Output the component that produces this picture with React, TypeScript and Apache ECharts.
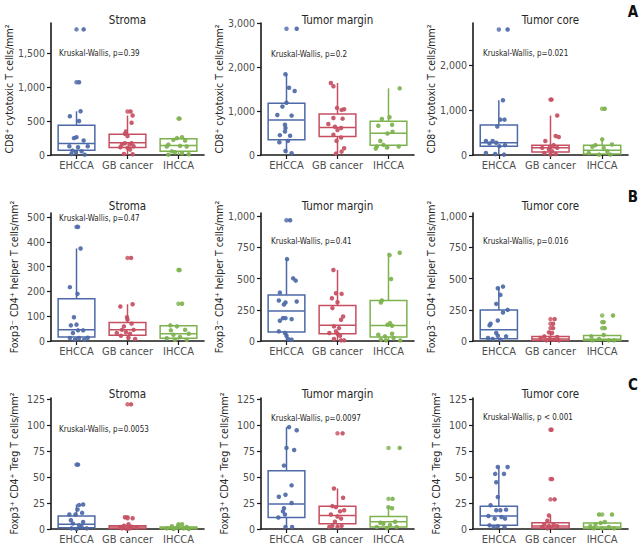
import React, { useEffect, useRef } from "react";
import * as echarts from "echarts";

const categories = ["EHCCA", "GB cancer", "IHCCA"];
const groupColors = ["#4d69a8", "#c54f61", "#7db24e"];
const columnTitles = ["Stroma", "Tumor margin", "Tumor core"];
const rowYTitles = [
  "CD8⁺ cytotoxic T cells/mm²",
  "Foxp3⁻ CD4⁺ helper T cells/mm²",
  "Foxp3⁺ CD4⁺ Treg T cells/mm²",
];
const rowLetters = ["A", "B", "C"];
const pValueTexts = [
  "Kruskal-Wallis, p=0.39",
  "Kruskal-Wallis, p=0.2",
  "Kruskal-Wallis, p=0.021",
  "Kruskal-Wallis, p=0.47",
  "Kruskal-Wallis, p=0.41",
  "Kruskal-Wallis, p=0.016",
  "Kruskal-Wallis, p=0.0053",
  "Kruskal-Wallis, p=0.0097",
  "Kruskal-Wallis, p < 0.001",
];
const yMax = [1940, 3000, 2930, 516, 1024, 1024, 126, 126, 126];
const yTicks = [
  [0, 500, 1000, 1500],
  [0, 1000, 2000, 3000],
  [0, 1000, 2000],
  [0, 100, 200, 300, 400, 500],
  [0, 250, 500, 750, 1000],
  [0, 250, 500, 750, 1000],
  [0, 25, 50, 75, 100, 125],
  [0, 25, 50, 75, 100, 125],
  [0, 25, 50, 75, 100, 125],
];

// box stats per panel: [whiskerLow, Q1, median, Q3, whiskerHigh] for EHCCA, GB cancer, IHCCA
const boxA1 = [[0, 70, 170, 436, 643], [0, 110, 180, 305, 580], [0, 54, 139, 238, 262]];
const boxA2 = [[40, 344, 796, 1178, 1836], [31, 421, 627, 933, 1637], [145, 222, 497, 765, 1515]];
const boxA3 = [[8, 196, 272, 664, 1216], [8, 68, 159, 219, 876], [8, 23, 106, 219, 347]];
const boxB1 = [[5, 16, 45, 170, 373], [5, 23, 45, 75, 148], [5, 11, 29, 61, 63]];
const boxB2 = [[11, 72, 241, 369, 655], [5, 58, 127, 284, 568], [5, 32, 125, 324, 706]];
const boxB3 = [[11, 19, 90, 249, 435], [5, 5, 16, 37, 69], [5, 5, 14, 45, 48]];
const boxC1 = [[0, 1.3, 4.5, 12.6, 23.5], [0, 0.6, 1.9, 3.2, 5], [0, 0.3, 1, 1.9, 3.5]];
const boxC2 = [[2, 11, 24, 56, 98], [2, 5, 13, 22, 39], [0, 2, 7, 12, 21]];
const boxC3 = [[1.9, 3.5, 12.5, 21.8, 59.6], [0.3, 1, 2.9, 6, 13], [0.3, 0.6, 1.9, 5.8, 6.7]];

// boxplot outliers (drawn on the category centre)
const outA1 = [[1846, 1069], [640], [535]];
const outA2 = [[2869], [], []];
const outA3 = [[2786], [1230], [1027]];
const outB1 = [[460], [335], [286, 150]];
const outB2 = [[966], [], []];
const outB3 = [[], [175, 138, 103], [204, 151, 103]];
const outC1 = [[61.9], [119.9, 11.3, 10.3], [4.5]];
const outC2 = [[], [92], [78, 29]];
const outC3 = [[], [95.5, 48, 28.5], [14]];

// jittered observations: [horizontal jitter (category units), value]
const ptsA1 = [
  [[0.14, 1846], [0.05, 1069], [-0.13, 569], [0.08, 643], [0.05, 500], [-0.05, 248], [0, 262], [0.14, 213], [-0.14, 129], [0.03, 114], [0.22, 129], [-0.08, 64], [0.1, 54], [-0.01, 40], [0.16, 5], [-0.1, 15]],
  [[0.06, 640], [0.1, 580], [0.08, 475], [-0.03, 346], [-0.05, 312], [0, 277], [-0.05, 173], [0.08, 173], [-0.11, 153], [0.04, 153], [0.12, 129], [-0.14, 114], [0, 104], [0.05, 79], [-0.07, 15], [0.1, 10]],
  [[0.02, 535], [0.07, 262], [-0.03, 248], [-0.1, 223], [0.13, 213], [-0.2, 153], [0.03, 134], [-0.23, 124], [0.16, 124], [-0.13, 54], [-0.07, 40], [0.07, 25], [0.2, 10], [-0.2, 5]],
];
const ptsA2 = [
  [[0.2, 2869], [-0.02, 1836], [0.05, 1530], [0.16, 1453], [0, 1186], [-0.08, 1101], [-0.18, 910], [0.1, 895], [-0.03, 688], [-0.02, 612], [-0.03, 535], [-0.13, 451], [0.07, 436], [-0.14, 291], [0.03, 321], [-0.02, 92], [0.1, 40]],
  [[-0.13, 1637], [-0.08, 1561], [-0.01, 1071], [0.08, 1025], [0.13, 1040], [-0.08, 841], [0.1, 826], [-0.18, 704], [-0.05, 643], [0.07, 612], [0, 566], [-0.08, 459], [0.07, 398], [-0.02, 321], [0.13, 153], [0.08, 77], [-0.03, 31]],
  [[0.22, 1515], [-0.13, 819], [0.02, 857], [0.07, 688], [-0.2, 666], [0.08, 528], [-0.02, 490], [-0.16, 321], [-0.1, 230], [-0.23, 191], [-0.03, 168], [0.2, 191], [-0.25, 145]],
];
const ptsA3 = [
  [[0.17, 2786], [0.08, 1216], [0.03, 785], [0.11, 785], [-0.03, 634], [-0.25, 310], [-0.12, 310], [-0.18, 257], [-0.05, 272], [0.12, 219], [0.01, 196], [-0.25, 45], [-0.07, 23], [0.1, 8]],
  [[0.02, 1230], [0.13, 876], [0.1, 423], [0.16, 400], [-0.1, 310], [0.06, 219], [-0.01, 174], [-0.16, 159], [0.13, 159], [-0.03, 121], [0.03, 83], [-0.12, 45], [0.1, 23], [0, 8]],
  [[0.05, 1027], [0, 347], [-0.13, 219], [0.19, 234], [-0.19, 181], [0.03, 159], [0.1, 83], [-0.26, 45], [-0.06, 8], [0.16, 8]],
];
const ptsB1 = [
  [[0.03, 460], [0.08, 373], [-0.13, 217], [0.02, 190], [-0.05, 96], [-0.11, 63], [0, 66], [0.03, 43], [0.13, 43], [-0.07, 32], [-0.13, 12], [0.05, 12], [0.22, 13], [-0.03, 5], [0.15, 5]],
  [[0.07, 335], [-0.14, 139], [0.1, 148], [-0.01, 96], [0, 86], [-0.07, 59], [0.08, 70], [-0.11, 45], [0.12, 45], [-0.03, 35], [-0.21, 32], [0.05, 29], [-0.13, 21], [0.02, 13], [0.15, 8]],
  [[0.02, 286], [0.07, 150], [-0.16, 63], [-0.03, 59], [0.13, 45], [-0.15, 43], [0.2, 29], [-0.1, 25], [0.03, 16], [-0.23, 11], [-0.07, 5], [0.16, 5]],
];
const ptsB2 = [
  [[0.07, 966], [0.01, 655], [0.13, 501], [0.18, 483], [-0.13, 387], [-0.15, 324], [0.2, 316], [-0.02, 308], [-0.05, 292], [-0.07, 183], [-0.02, 183], [0.1, 175], [-0.13, 162], [-0.15, 77], [-0.03, 64], [0, 42], [0.03, 16], [0.1, 11]],
  [[-0.08, 568], [-0.03, 382], [0.08, 377], [-0.11, 342], [0, 310], [-0.1, 263], [0.11, 196], [0.07, 170], [-0.07, 117], [0.03, 103], [-0.03, 77], [-0.16, 64], [0, 58], [0.05, 42], [-0.07, 16], [0.13, 5], [0.07, 5]],
  [[0.02, 687], [0.22, 706], [0.05, 496], [-0.13, 324], [-0.15, 308], [0.03, 143], [-0.02, 130], [0.07, 122], [0.07, 58], [-0.2, 50], [-0.07, 37], [0.1, 24], [-0.15, 11], [0.23, 5], [-0.05, 5]],
];
const ptsB3 = [
  [[0.08, 435], [-0.02, 422], [0.03, 369], [-0.05, 297], [0.17, 249], [0.08, 228], [-0.18, 125], [-0.16, 138], [-0.02, 164], [-0.05, 64], [-0.02, 42], [0.14, 37], [-0.21, 24], [-0.12, 16], [0.03, 11]],
  [[0.08, 175], [0.05, 138], [0.05, 103], [-0.03, 69], [0.03, 64], [-0.12, 37], [0.13, 32], [-0.19, 24], [-0.01, 16], [0.06, 11], [-0.08, 5], [0.16, 5]],
  [[0.21, 204], [0.03, 151], [0.05, 103], [0.03, 48], [-0.21, 37], [-0.06, 16], [-0.19, 5], [0.13, 5], [0.23, 5]],
];
const ptsC1 = [
  [[0.03, 61.9], [0.13, 23.5], [0.05, 23], [0.02, 18.7], [-0.02, 14], [-0.14, 13.9], [0.11, 15.5], [-0.11, 8.4], [0.13, 6.8], [-0.07, 5.2], [0.05, 3.5], [0.1, 1.9], [-0.1, 0.6], [0.2, 0.6], [0, 0]],
  [[0.07, 119.9], [-0.05, 11.3], [0.1, 10.3], [0.02, 4.5], [-0.07, 3.2], [-0.14, 1.9], [0.08, 2.2], [0.18, 1.3], [0.05, 0.6], [-0.11, 0.6], [-0.01, 0]],
  [[0.07, 4.5], [0, 3.5], [-0.13, 2.6], [0.16, 1.9], [-0.03, 1.3], [-0.23, 0.6], [0.1, 0.6], [0.2, 0], [-0.1, 0]],
];
const ptsC2 = [
  [[0.05, 98], [0.2, 95], [0, 78], [0.15, 76], [-0.05, 61], [0.1, 42], [-0.02, 33], [-0.15, 31], [0.1, 25], [-0.05, 20], [-0.07, 17], [-0.03, 14], [-0.16, 11], [-0.02, 2], [0.11, 2]],
  [[0.1, 92], [-0.07, 39], [0.11, 30], [-0.1, 22], [-0.03, 21], [0.05, 17], [0.13, 18], [-0.13, 14], [0, 12], [0.07, 10], [-0.05, 7], [-0.1, 3], [0.08, 3], [0, 2], [-0.16, 2]],
  [[0.22, 78], [0.08, 29], [0, 21], [0.07, 20], [-0.16, 6], [-0.1, 5], [0.13, 7], [0.03, 4], [-0.23, 2], [0.16, 2], [-0.03, 1]],
];
const ptsC3 = [
  [[-0.02, 59.6], [0.17, 59.6], [-0.07, 53], [0.1, 53], [-0.05, 45], [-0.02, 30.8], [-0.16, 22.8], [-0.05, 18], [0.03, 18], [0.14, 18.6], [-0.2, 12.5], [-0.08, 10], [0.05, 11.5], [0.12, 10], [-0.18, 3.5], [-0.02, 2.6], [-0.1, 1.9], [0.11, 1.9]],
  [[0.02, 95.5], [0.03, 48], [0.08, 28.5], [-0.03, 13], [-0.06, 8], [-0.12, 4.5], [0.06, 4.5], [-0.03, 3], [0.13, 2.6], [-0.16, 1.9], [0.03, 1.3], [-0.06, 0.6]],
  [[-0.06, 14], [0.19, 14], [0.05, 6.7], [-0.03, 5.8], [-0.13, 4.5], [-0.23, 2.6], [0.13, 1.9], [0, 0.6], [0.23, 0.6], [-0.16, 0.6]],
];

const panelBoxes = [boxA1, boxA2, boxA3, boxB1, boxB2, boxB3, boxC1, boxC2, boxC3];
const panelOutliers = [outA1, outA2, outA3, outB1, outB2, outB3, outC1, outC2, outC3];
const panelPoints = [ptsA1, ptsA2, ptsA3, ptsB1, ptsB2, ptsB3, ptsC1, ptsC2, ptsC3];

// layout (pixels)
const colLeft = [51, 261, 473];
const colWidth = [153, 153, 155];
const rowTop = [23, 213, 398];
const rowHeight = [132, 128, 131];
const titleY = [20, 205.5, 393.5];
const letterY = [12, 197, 385];
const pTextPos = [
  [59, 53], [271, 54], [483, 53],
  [59, 218], [271, 241], [483, 241],
  [59, 429], [271, 418], [483, 417],
];

const FONT = "'Liberation Sans Narrow', 'Arial Narrow', 'DejaVu Sans Condensed', 'Roboto Condensed', 'Liberation Sans', sans-serif";
const AXIS_COLOR = "#1a1a1a";
const LABEL_COLOR = "#4d4d4d";

function buildOption() {
  const grid: any[] = [];
  const xAxis: any[] = [];
  const yAxis: any[] = [];
  const series: any[] = [];
  const graphic: any[] = [];

  for (let p = 0; p < 9; p++) {
    const row = Math.floor(p / 3);
    const col = p % 3;
    grid.push({
      left: colLeft[col],
      top: rowTop[row],
      width: colWidth[col],
      height: rowHeight[row],
      containLabel: false,
      outerBoundsMode: "none",
    });
    xAxis.push({
      gridIndex: p,
      type: "category",
      data: categories,
      boundaryGap: true,
      axisLine: { show: true, lineStyle: { color: AXIS_COLOR, width: 1.6 } },
      axisTick: { show: true, alignWithLabel: true, length: 4, lineStyle: { color: AXIS_COLOR, width: 1.2 } },
      axisLabel: { color: LABEL_COLOR, fontSize: 11, margin: 5, interval: 0, fontFamily: FONT },
      splitLine: { show: false },
    });
    xAxis.push({
      gridIndex: p,
      type: "value",
      min: -0.5,
      max: 2.5,
      show: false,
    });
    yAxis.push({
      gridIndex: p,
      type: "value",
      min: 0,
      max: yMax[p],
      axisLine: { show: true, onZero: false, lineStyle: { color: AXIS_COLOR, width: 1.6 } },
      axisTick: { show: true, length: 4, lineStyle: { color: AXIS_COLOR, width: 1.2 }, customValues: yTicks[p] },
      axisLabel: {
        customValues: yTicks[p],
        color: LABEL_COLOR,
        fontSize: 10.5,
        margin: 6,
        fontFamily: FONT,
        formatter: (v: number) => Number(v).toLocaleString("en-US"),
      },
      splitLine: { show: false },
      name: rowYTitles[row],
      nameLocation: "middle",
      nameGap: 32,
      nameTextStyle: { fontSize: 10.5, color: "#262626", fontFamily: FONT },
    });

    const boxes = panelBoxes[p];
    series.push({
      type: "custom",
      xAxisIndex: 2 * p,
      yAxisIndex: p,
      z: 2,
      encode: { x: 0, y: [1, 2, 3, 4, 5] },
      data: boxes.map((b, i) => [i, ...b]),
      renderItem: (params: any, api: any) => {
        const ci = api.value(0);
        const color = groupColors[ci];
        const lo = api.coord([ci, api.value(1)]);
        const q1 = api.coord([ci, api.value(2)]);
        const med = api.coord([ci, api.value(3)]);
        const q3 = api.coord([ci, api.value(4)]);
        const hi = api.coord([ci, api.value(5)]);
        const band = api.size([1, 0])[0];
        const w = band * 0.72;
        const x = q1[0];
        const ls = { stroke: color, lineWidth: 1.5, fill: "none" };
        return {
          type: "group",
          children: [
            { type: "line", shape: { x1: x, y1: q3[1], x2: x, y2: hi[1] }, style: ls },
            { type: "line", shape: { x1: x, y1: q1[1], x2: x, y2: lo[1] }, style: ls },
            {
              type: "rect",
              shape: { x: x - w / 2, y: q3[1], width: w, height: q1[1] - q3[1] },
              style: { stroke: color, lineWidth: 1.5, fill: "rgba(255,255,255,0)" },
            },
            { type: "line", shape: { x1: x - w / 2, y1: med[1], x2: x + w / 2, y2: med[1] }, style: ls },
          ],
        };
      },
    });

    const outData: any[] = [];
    panelOutliers[p].forEach((vals, ci) =>
      vals.forEach((v) => outData.push({ value: [ci, v], itemStyle: { color: groupColors[ci] } }))
    );
    series.push({
      type: "scatter",
      xAxisIndex: 2 * p + 1,
      yAxisIndex: p,
      z: 3,
      symbolSize: 4.5,
      data: outData,
    });

    const ptData: any[] = [];
    panelPoints[p].forEach((pts, ci) =>
      pts.forEach(([dx, v]) => ptData.push({ value: [ci + dx, v], itemStyle: { color: groupColors[ci], opacity: 0.92 } }))
    );
    series.push({
      type: "scatter",
      xAxisIndex: 2 * p + 1,
      yAxisIndex: p,
      z: 4,
      symbolSize: 4.5,
      data: ptData,
    });

    graphic.push({
      type: "text",
      x: colLeft[col] + colWidth[col] / 2,
      y: titleY[row],
      style: {
        text: columnTitles[col],
        fill: "#262626",
        fontSize: 11.5,
        fontWeight: "normal",
        fontFamily: FONT,
        textAlign: "center",
        textVerticalAlign: "middle",
      },
    });
    graphic.push({
      type: "text",
      x: pTextPos[p][0],
      y: pTextPos[p][1],
      style: {
        text: pValueTexts[p],
        fill: "#262626",
        fontSize: 8,
        fontWeight: "normal",
        fontFamily: FONT,
        textAlign: "left",
        textVerticalAlign: "middle",
      },
    });
  }
  rowLetters.forEach((l, r) =>
    graphic.push({
      type: "text",
      x: 633,
      y: letterY[r],
      style: {
        text: l,
        fill: "#111",
        fontSize: 15,
        fontWeight: "bold",
        fontFamily: FONT,
        textAlign: "center",
        textVerticalAlign: "middle",
      },
    })
  );

  return {
    animation: false,
    backgroundColor: "#ffffff",
    grid,
    xAxis,
    yAxis,
    series,
    graphic,
  };
}

export default function App() {
  const ref = useRef<HTMLDivElement>(null);
  useEffect(() => {
    if (!ref.current) return;
    const chart = echarts.init(ref.current, undefined, { renderer: "svg" });
    chart.setOption(buildOption() as any);
    return () => chart.dispose();
  }, []);
  return (
    <div
      ref={ref}
      style={{ position: "fixed", left: 0, top: 0, width: 641, height: 551, background: "#fff" }}
    />
  );
}
